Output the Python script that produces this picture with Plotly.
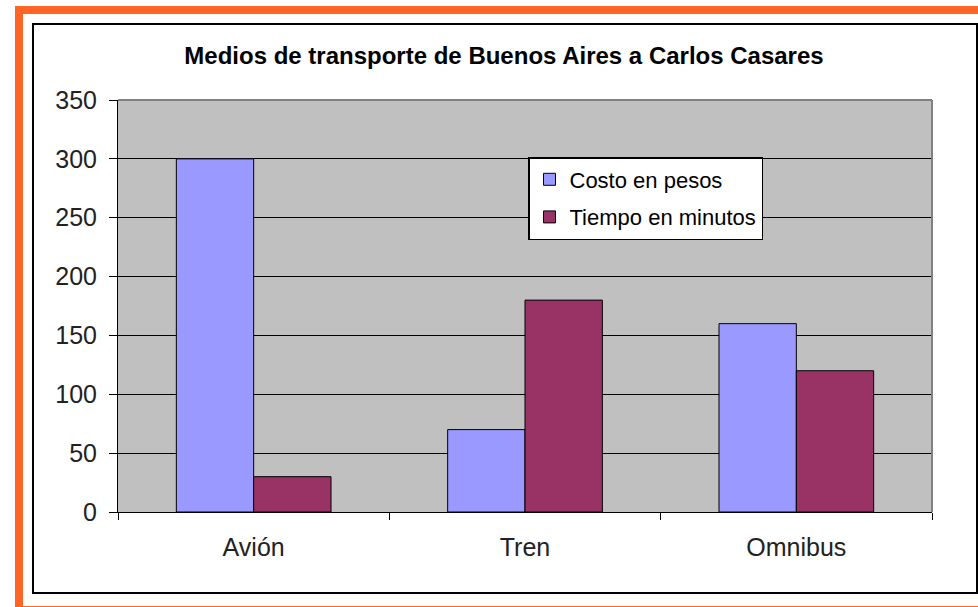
import plotly.graph_objects as go

categories = ["Avión", "Tren", "Omnibus"]
costo = [300, 70, 160]
tiempo = [30, 180, 120]
series_names = ["Costo en pesos", "Tiempo en minutos"]
colors = ["#9999FF", "#993366"]

W, H = 978, 607
L, R, T, B = 118, 46, 100, 95
pw, ph = W - L - R, H - T - B

def px(x):
    return (x - L) / pw

def py(y):
    return (H - B - y) / ph

fig = go.Figure()
for name, vals, col in zip(series_names, [costo, tiempo], colors):
    fig.add_trace(go.Bar(
        x=categories, y=vals, name=name, legendgroup=name,
        marker=dict(color=col, line=dict(color="black", width=1)),
    ))

font = "Liberation Sans, Arial, sans-serif"
fig.update_layout(
    width=W, height=H,
    margin=dict(l=L, r=R, t=T, b=B),
    paper_bgcolor="white",
    plot_bgcolor="#C0C0C0",
    barmode="group",
    bargap=0.43,
    bargroupgap=0,
    title=dict(text="<b>Medios de transporte de Buenos Aires a Carlos Casares</b>",
               x=504 / W, xanchor="center", y=1 - 56 / H, yanchor="middle",
               font=dict(family=font, size=24, color="black")),
    font=dict(family=font, color="#222"),
    legend=dict(x=px(528), y=py(157), xanchor="left", yanchor="top",
                bgcolor="white", bordercolor="black", borderwidth=1.5,
                font=dict(family=font, size=22, color="black"),
                tracegroupgap=6, traceorder="grouped", itemwidth=30),
    showlegend=True,
)
fig.update_yaxes(range=[0, 350], dtick=50, showgrid=True, gridcolor="black", gridwidth=1,
                 showline=True, linecolor="black", linewidth=1,
                 ticks="outside", ticklen=8, tickcolor="black", ticklabelstandoff=7,
                 tickfont=dict(family=font, size=25, color="#222"),
                 zeroline=False)
fig.update_xaxes(showline=True, linecolor="black", linewidth=1,
                 ticks="outside", ticklen=7, tickcolor="black", tickson="boundaries",
                 ticklabelstandoff=13,
                 tickfont=dict(family=font, size=25, color="#222"))

shapes = [
    dict(type="line", xref="paper", yref="paper", x0=0, x1=1, y0=1, y1=1,
         line=dict(color="#808080", width=2), layer="above"),
    dict(type="line", xref="paper", yref="paper", x0=1, x1=1, y0=0, y1=1,
         line=dict(color="#808080", width=2), layer="above"),
    dict(type="rect", xref="paper", yref="paper", x0=px(33), x1=px(977), y0=py(24), y1=py(593),
         line=dict(color="black", width=2), layer="above"),
    dict(type="rect", xref="paper", yref="paper", x0=px(19), x1=px(990), y0=py(10), y1=py(610),
         line=dict(color="#FF6526", width=8), layer="above"),
]
fig.update_layout(shapes=shapes)

fig.write_html("out.html", config={"displayModeBar": False},
               post_script="document.body.style.margin='0px';document.body.style.overflow='hidden';")
